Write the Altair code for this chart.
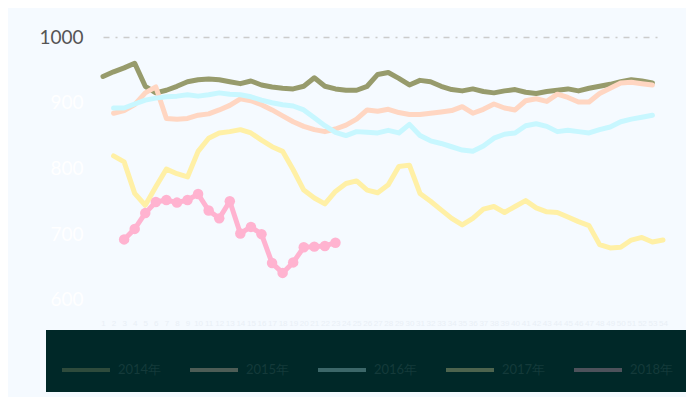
import altair as alt
import pandas as pd

# x categories (week numbers)
x_labels = [str(i) for i in range(1, 55)]

series_names = ["2014年", "2015年", "2016年", "2017年", "2018年"]
series_colors = ["#979b6c", "#ffd6c2", "#c8f7ff", "#fff0a6", "#ffb3d0"]

# values, each list starts at the given category index
start_2014 = 0
s2014 = [940, 947, 953, 960, 925, 915, 919, 925, 932, 935, 936, 935, 932, 929, 933, 927,
         924, 922, 921, 925, 938, 925, 921, 919, 919, 925, 943, 946, 937, 927, 934, 932,
         925, 920, 918, 921, 917, 915, 918, 920, 916, 914, 917, 919, 921, 918, 922, 925,
         928, 932, 935, 933, 930]
start_2015 = 1
s2015 = [884, 888, 897, 915, 924, 876, 875, 876, 881, 883, 889, 896, 906, 903, 897, 889,
         880, 871, 864, 859, 856, 860, 866, 875, 889, 887, 890, 885, 882, 882, 884, 886,
         888, 894, 884, 890, 898, 892, 889, 903, 906, 902, 913, 908, 901, 901, 914, 922,
         930, 931, 929, 927]
start_2016 = 1
s2016 = [892, 892, 898, 904, 907, 909, 910, 912, 910, 912, 915, 913, 912, 909, 904, 900,
         897, 895, 889, 877, 865, 855, 850, 856, 855, 854, 858, 854, 867, 850, 842, 838,
         833, 828, 826, 834, 846, 852, 854, 865, 868, 864, 856, 858, 856, 854, 859, 863,
         871, 875, 878, 881]
start_2017 = 1
s2017 = [819, 810, 762, 744, 772, 799, 792, 787, 826, 846, 854, 856, 859, 854, 843, 833,
         826, 798, 767, 755, 746, 765, 777, 781, 767, 763, 775, 803, 805, 762, 750, 737,
         724, 714, 724, 738, 742, 733, 742, 751, 740, 734, 733, 726, 719, 713, 684, 679,
         680, 691, 695, 688, 691]
start_2018 = 2
s2018 = [692, 708, 732, 749, 752, 748, 752, 761, 736, 724, 750, 701, 711, 700, 656, 641,
         657, 680, 681, 682, 687]

y_ticks = [600, 700, 800, 900, 1000]

rows = []
for name, start, vals in [("2014年", start_2014, s2014), ("2015年", start_2015, s2015),
                          ("2016年", start_2016, s2016), ("2017年", start_2017, s2017),
                          ("2018年", start_2018, s2018)]:
    for k, v in enumerate(vals):
        rows.append({"week": x_labels[start + k], "value": v, "series": name})
df = pd.DataFrame(rows)

color = alt.Color(
    "series:N",
    scale=alt.Scale(domain=series_names, range=series_colors),
    legend=alt.Legend(
        title=None, orient="none", legendX=-57, legendY=293,
        direction="horizontal", columns=5,
        symbolType="stroke", symbolSize=2304, symbolStrokeWidth=4, symbolOpacity=0.3,
        labelFontSize=13, labelColor="#143a3a", labelFont="Lato", labelOffset=6,
        columnPadding=20, padding=14, fillColor="#002828",
    ),
)

x = alt.X(
    "week:O",
    scale=alt.Scale(domain=x_labels, padding=0),
    axis=alt.Axis(title=None, labelAngle=0, labelFontSize=8, labelColor="#e9eff6",
                  labelOverlap=False, domain=False, ticks=False, grid=False, labelPadding=6),
)
y = alt.Y(
    "value:Q",
    scale=alt.Scale(domain=[580, 1000], nice=False, zero=False),
    axis=alt.Axis(
        title=None, values=y_ticks, format="d", labelFontSize=19, labelFont="Lato",
        labelColor={"condition": {"test": "datum.value == 1000", "value": "#555555"}, "value": "#ffffff"},
        gridColor={"condition": {"test": "datum.value == 1000", "value": "#cccccc"}, "value": "#f5faff"},
        gridDash=[6, 6, 2, 6], gridWidth=1.5,
        domain=False, ticks=False, labelPadding=20,
    ),
)

base = alt.Chart(df)
lines = base.mark_line(strokeWidth=5, strokeCap="round", strokeJoin="round").encode(
    x=x, y=y, color=color, detail="series:N"
)
points = base.transform_filter(alt.datum.series == "2018年").mark_point(
    filled=True, size=110, opacity=1
).encode(x=x, y=y, color=color)

chart = alt.layer(lines, points).properties(
    width=560, height=276,
    padding={"left": 95, "top": 29, "right": 23, "bottom": 84},
    autosize=alt.AutoSizeParams(type="none"),
    background="#f5faff",
).configure_view(stroke=None)

chart.save("out.html", embed_options={"renderer": "svg", "actions": False})
